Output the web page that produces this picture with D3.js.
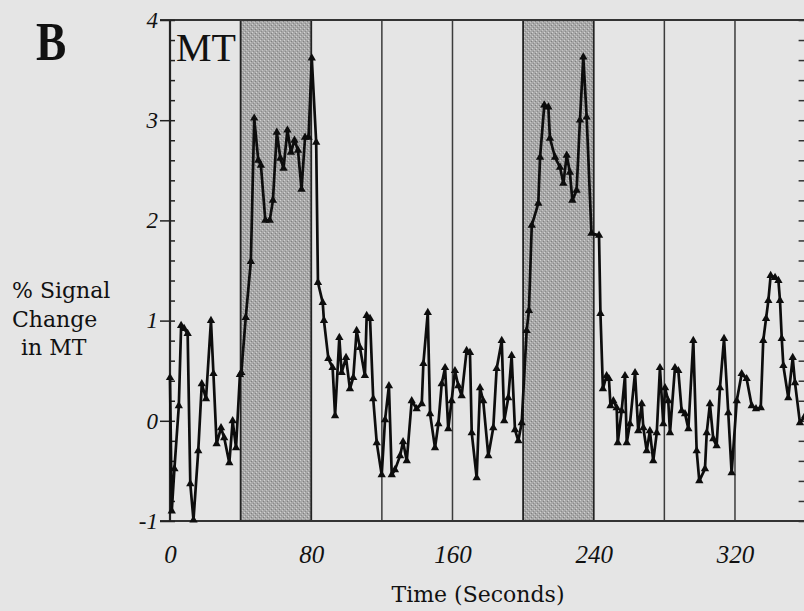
<!DOCTYPE html>
<html>
<head>
<meta charset="utf-8">
<script src="https://cdn.jsdelivr.net/npm/d3@7"></script>
<style>
body { margin: 0; background: #e5e5e5; }
svg { display: block; }
</style>
</head>
<body>
<script>
// time (s) and % signal change in MT
var times = [0, 1, 2.5, 5, 6.3, 8, 10, 11.5, 13.3, 16, 18, 20.4, 23.2, 24.6, 26.4, 28.9, 30.7, 33.6, 35.5, 37.4, 39.6,
  40.4, 42.9, 45.8, 47.7, 50, 51.5, 54, 56.5, 58.3, 60.5, 62.5, 64.3, 66.5, 68.5, 70.5, 72.5, 74.5, 76.5, 78.5, 80.3, 82.8,
  83.8, 86.5, 87.2, 89.7, 92.1, 93.5, 95.9, 97.2, 99.7, 101.9, 103.8, 105.7, 107.6, 110.4, 111.4, 113.3, 115.1, 117.1,
  119.9, 121.8, 124, 125.6, 127.4, 130.3, 132, 134.1, 136.9, 139.7, 142.6, 143.5, 146, 147.3, 150.1, 152, 153.9, 155.8, 157.6,
  159.5, 161.4, 163.3, 165.2, 168, 169.9, 170.9, 173.7, 175.6, 177.4, 180.3, 183.1, 185, 187.9, 189.3, 191.6, 193.5, 195.4, 197.3,
  199.2, 202, 203.3, 204.9, 208.6, 209.6, 212, 214.3, 215.2, 218.1, 220.9, 222.8, 224.7, 226.5, 227.9, 230.3, 232.2, 234.1, 236,
  238.7, 243, 243.8, 245.2, 247.3, 248.6, 249.5, 251.1, 253, 253.6, 255.8, 257.7, 258.7, 260.5, 263.4, 265.2, 267.2, 268.1,
  270, 271.8, 273.7, 275.7, 277.5, 279.4, 280.4, 282.2, 283.2, 286, 287.9, 289.8, 291.7, 293.6, 296.4, 298.3, 299.8,
  303, 304, 305.8, 307.7, 309.6, 311.5, 313.8, 316.2, 318.1, 321, 323.8, 326.6, 329.5, 331.9, 334.6, 336, 337.6, 338.9,
  340.2, 342.7, 344.6, 345.5, 346.5, 347.4, 350.2, 352.7, 354, 356.8, 359.7];
var signal = [0.43, -0.9, -0.48, 0.15, 0.95, 0.92, 0.87, -0.63, -0.99, -0.3, 0.37, 0.22, 1.0, 0.47, -0.23, -0.07, -0.17, -0.42, 0.0, -0.27, 0.46,
  0.48, 1.03, 1.59, 3.02, 2.6, 2.55, 2.0, 2.0, 2.2, 2.88, 2.62, 2.52, 2.9, 2.68, 2.8, 2.7, 2.31, 2.83, 2.83, 3.62, 2.78,
  1.38, 1.18, 1.0, 0.62, 0.53, 0.05, 0.83, 0.48, 0.63, 0.32, 0.43, 0.9, 0.73, 0.45, 1.05, 1.02, 0.22, -0.22,
  -0.54, 0.01, 0.35, -0.54, -0.49, -0.35, -0.21, -0.4, 0.2, 0.12, 0.17, 0.57, 1.08, 0.07, -0.27, -0.03, 0.37, 0.53, -0.08,
  0.2, 0.5, 0.35, 0.25, 0.7, 0.68, -0.12, -0.57, 0.33, 0.2, -0.35, -0.07, 0.52, 0.8, 0.0, 0.23, 0.65, -0.09, -0.2,
  -0.02, 0.9, 1.1, 1.95, 2.17, 2.63, 3.15, 3.13, 2.82, 2.63, 2.53, 2.37, 2.65, 2.48, 2.2, 2.3, 3.0, 3.63, 3.03,
  1.87, 1.85, 1.07, 0.32, 0.45, 0.42, 0.15, 0.2, 0.13, -0.22, 0.1, 0.45, -0.22, -0.03, 0.48, -0.1, 0.17, -0.07,
  -0.3, -0.1, -0.4, -0.12, 0.53, -0.03, 0.33, 0.2, -0.12, 0.53, 0.5, 0.1, 0.07, -0.08, 0.8, -0.3, -0.6,
  -0.48, -0.12, 0.17, -0.18, -0.25, 0.33, 0.82, 0.08, -0.52, 0.2, 0.47, 0.42, 0.15, 0.12, 0.13, 0.8, 1.02, 1.2,
  1.45, 1.43, 1.4, 1.2, 0.82, 0.55, 0.23, 0.63, 0.38, -0.02, 0.05];

var stimBlocks = [[40, 80], [200, 240]];
var blockLines = [120, 160, 280, 320];
var xTicks = [0, 80, 160, 240, 320];
var yTicks = [-1, 0, 1, 2, 3, 4];
var yLabel = ["% Signal", "Change", "in MT"];

var w = 804;
var h = 611;

var x = d3.scaleLinear()
    .domain([0, 360])
    .range([170, 805.6]);
var y = d3.scaleLinear()
    .domain([-1, 4])
    .range([521, 20]);

var svg = d3.select("body")
    .append("svg")
    .attr("width", w)
    .attr("height", h);

svg.append("rect")
    .attr("width", w)
    .attr("height", h)
    .attr("fill", "#e5e5e5");

// stippled grey for the stimulus blocks
var pat = svg.append("defs").append("pattern")
    .attr("id", "stipple")
    .attr("width", 4)
    .attr("height", 4)
    .attr("patternUnits", "userSpaceOnUse");
pat.append("rect").attr("width", 4).attr("height", 4).attr("fill", "#a8a8a8");
[[0, 0, "#d2d2d2"], [2, 2, "#c6c6c6"], [3, 1, "#808080"], [1, 3, "#8c8c8c"]].forEach(function(p) {
  pat.append("rect").attr("x", p[0]).attr("y", p[1]).attr("width", 1).attr("height", 1).attr("fill", p[2]);
});

svg.selectAll("rect.block")
  .data(stimBlocks)
  .enter().append("rect")
    .attr("class", "block")
    .attr("x", function(d) { return x(d[0]); })
    .attr("y", y(4))
    .attr("width", function(d) { return x(d[1]) - x(d[0]); })
    .attr("height", y(-1) - y(4))
    .attr("fill", "url(#stipple)")
    .attr("stroke", "#222")
    .attr("stroke-width", 1.8);

svg.selectAll("line.edge")
  .data(blockLines)
  .enter().append("line")
    .attr("class", "edge")
    .attr("x1", function(d) { return x(d); })
    .attr("x2", function(d) { return x(d); })
    .attr("y1", y(4))
    .attr("y2", y(-1))
    .attr("stroke", "#3c3c3c")
    .attr("stroke-width", 1.5);

// frame
svg.append("line")
    .attr("x1", 160).attr("x2", w + 2)
    .attr("y1", y(4)).attr("y2", y(4))
    .attr("stroke", "#333").attr("stroke-width", 2.2);
svg.append("line")
    .attr("x1", 160).attr("x2", w + 2)
    .attr("y1", y(-1)).attr("y2", y(-1))
    .attr("stroke", "#333").attr("stroke-width", 2.2);
svg.append("line")
    .attr("x1", x(0)).attr("x2", x(0))
    .attr("y1", y(4)).attr("y2", y(-1))
    .attr("stroke", "#222").attr("stroke-width", 2.2);

var minor = d3.range(-1, 4.001, 0.2);

svg.append("g")
    .attr("transform", "translate(" + x(0) + ",0)")
    .call(d3.axisRight(y).tickValues(minor).tickSize(5).tickFormat(""))
    .call(function(g) { g.select(".domain").remove(); })
    .selectAll("line").attr("stroke", "#222").attr("stroke-width", 1.5);

svg.append("g")
    .attr("transform", "translate(" + x(360) + ",0)")
    .call(d3.axisLeft(y).tickValues(minor).tickSize(7).tickFormat(""))
    .call(function(g) { g.select(".domain").remove(); })
    .selectAll("line").attr("stroke", "#333").attr("stroke-width", 1.5);

var yAxis = svg.append("g")
    .attr("transform", "translate(" + x(0) + ",0)")
    .call(d3.axisLeft(y)
      .tickValues(yTicks)
      .tickSize(10)
      .tickPadding(2)
      .tickFormat(function(d) { return String(d); }));
yAxis.select(".domain").remove();
yAxis.selectAll("line").attr("stroke", "#222").attr("stroke-width", 1.5);
yAxis.selectAll("text")
    .attr("font-family", "Liberation Serif, serif")
    .attr("font-style", "italic")
    .attr("font-size", 23)
    .attr("fill", "#111");

var xAxis = svg.append("g")
    .attr("transform", "translate(0," + y(-1) + ")")
    .call(d3.axisBottom(x)
      .tickValues(xTicks)
      .tickSize(0)
      .tickPadding(24));
xAxis.select(".domain").remove();
xAxis.selectAll("text")
    .attr("font-family", "Liberation Serif, serif")
    .attr("font-style", "italic")
    .attr("font-size", 25)
    .attr("fill", "#111");

// signal trace
var pts = times.map(function(t, i) { return [t, signal[i]]; });

svg.append("path")
    .datum(pts)
    .attr("fill", "none")
    .attr("stroke", "#0d0d0d")
    .attr("stroke-width", 2.7)
    .attr("stroke-linejoin", "round")
    .attr("d", d3.line()
      .x(function(d) { return x(d[0]); })
      .y(function(d) { return y(d[1]); }));

svg.selectAll("path.mark")
  .data(pts)
  .enter().append("path")
    .attr("class", "mark")
    .attr("transform", function(d) { return "translate(" + x(d[0]) + "," + y(d[1]) + ")"; })
    .attr("d", d3.symbol().type(d3.symbolTriangle).size(30))
    .attr("fill", "#0d0d0d");

// labels
svg.append("text")
    .attr("transform", "translate(36,60) scale(0.84,1)")
    .attr("font-family", "Liberation Serif, serif")
    .attr("font-weight", "bold")
    .attr("font-size", 54)
    .attr("fill", "#111")
    .text("B");

svg.append("text")
    .attr("x", 176)
    .attr("y", 61)
    .attr("font-family", "Liberation Serif, serif")
    .attr("font-size", 40)
    .attr("fill", "#111")
    .text("MT");

svg.selectAll("text.ylab")
  .data(yLabel)
  .enter().append("text")
    .attr("class", "ylab")
    .attr("x", function(d, i) { return i == 2 ? 21 : 12; })
    .attr("y", function(d, i) { return 298 + i * 28.5; })
    .attr("font-family", "DejaVu Serif, serif")
    .attr("font-size", 22)
    .attr("fill", "#111")
    .text(function(d) { return d; });

svg.append("text")
    .attr("x", 478)
    .attr("y", 602)
    .attr("text-anchor", "middle")
    .attr("font-family", "DejaVu Serif, serif")
    .attr("font-size", 22)
    .attr("fill", "#111")
    .text("Time (Seconds)");
</script>
</body>
</html>
